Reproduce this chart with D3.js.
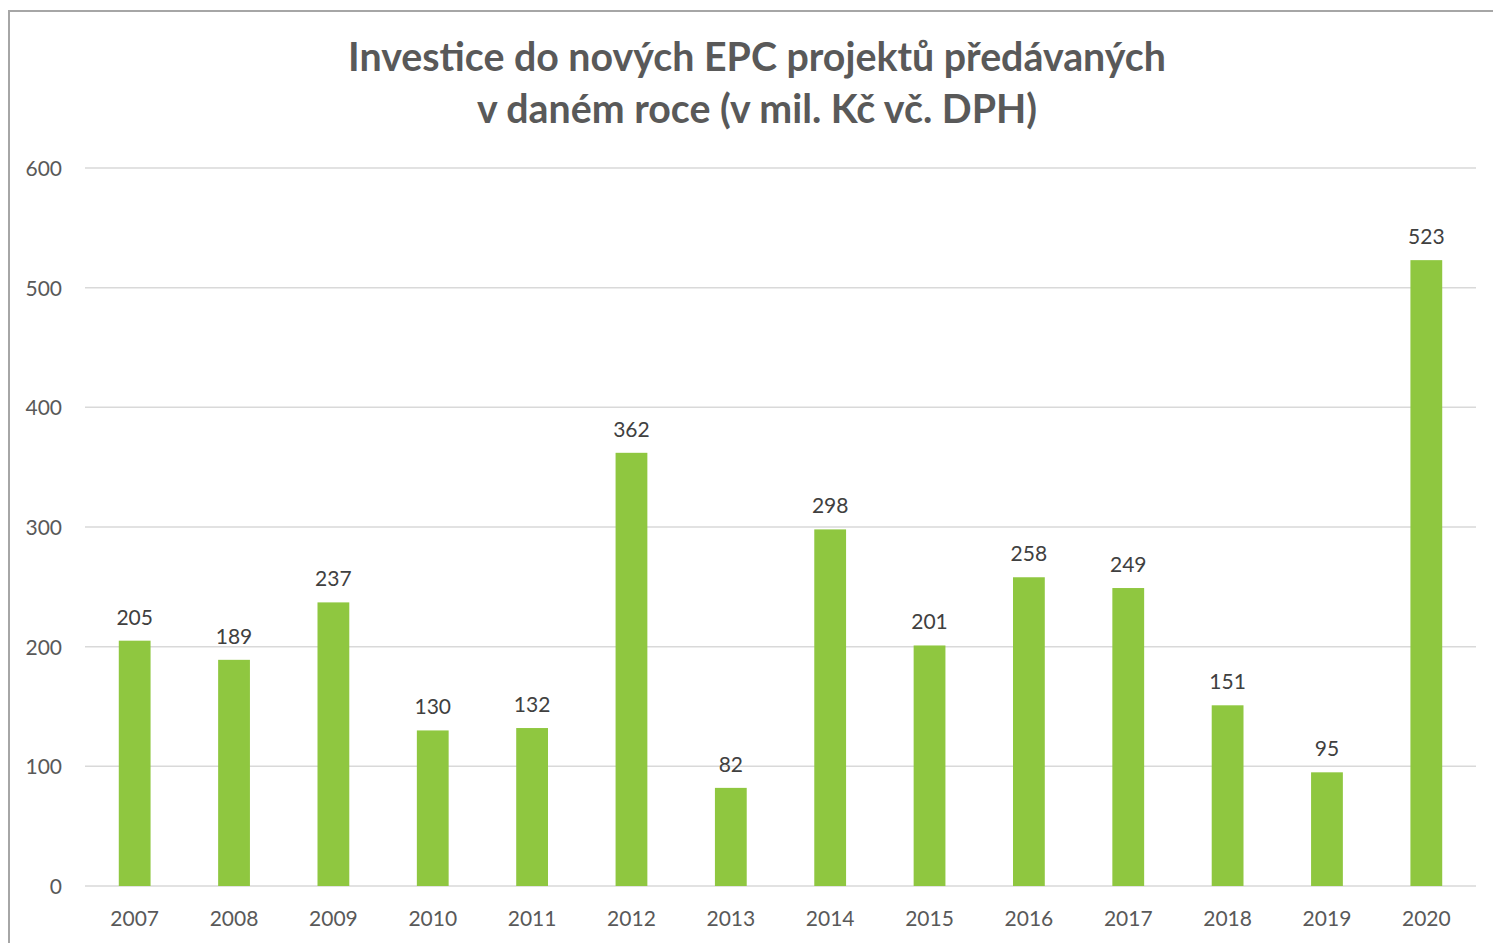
<!DOCTYPE html>
<html><head><meta charset="utf-8">
<script src="https://cdn.jsdelivr.net/npm/d3@7"></script>
<style>body{margin:0;background:#fff}svg{display:block}</style>
</head><body>
<svg id="c" width="1493" height="943"></svg>
<script>
const years = ["2007","2008","2009","2010","2011","2012","2013","2014","2015","2016","2017","2018","2019","2020"];
const values = [205,189,237,130,132,362,82,298,201,258,249,151,95,523];
const yTicks = [0,100,200,300,400,500,600];
const titleLines = ["Investice do nových EPC projektů předávaných","v daném roce (v mil. Kč vč. DPH)"];

const svg = d3.select("#c");
const font = "Lato, 'Open Sans', sans-serif";
const textColor = "#595959";

svg.append("rect").attr("x",9).attr("y",11).attr("width",1500).attr("height",950)
  .attr("fill","none").attr("stroke","#a6a6a6").attr("stroke-width",2);

const x = d3.scaleBand().domain(years).range([85,1476]).paddingInner(0.68).paddingOuter(0.34);
const y = d3.scaleLinear().domain([0,600]).range([886,168]);

// gridlines
svg.append("g").selectAll("line").data(yTicks).join("line")
  .attr("x1",85).attr("x2",1476).attr("y1",d=>y(d)).attr("y2",d=>y(d))
  .attr("stroke","#d9d9d9").attr("stroke-width",1.5);

// y axis labels
const yAxis = svg.append("g").attr("transform","translate(62,0)")
  .call(d3.axisLeft(y).tickValues(yTicks).tickSize(0).tickPadding(0));
yAxis.select(".domain").remove();
yAxis.selectAll("text").attr("font-family",font).attr("font-size",21).attr("fill",textColor).attr("dy","0.35em");

// bars
svg.append("g").selectAll("rect").data(values).join("rect")
  .attr("x",(d,i)=>x(years[i])).attr("width",x.bandwidth())
  .attr("y",d=>y(d)).attr("height",d=>y(0)-y(d)).attr("fill","#8fc740");

// x axis
const xAxis = svg.append("g").attr("transform","translate(0,886)")
  .call(d3.axisBottom(x).tickSize(0).tickPadding(0));
xAxis.select(".domain").remove();
xAxis.selectAll("text").attr("font-family",font).attr("font-size",21).attr("fill",textColor)
  .attr("dy",null).attr("y",40);

// data labels
svg.append("g").selectAll("text").data(values).join("text")
  .attr("x",(d,i)=>x(years[i])+x.bandwidth()/2).attr("y",d=>y(d)-16)
  .attr("text-anchor","middle").attr("font-family",font).attr("font-size",21).attr("fill","#404040")
  .text(d=>d);

// title
const t = svg.append("g");
titleLines.forEach((s,i)=>{
  t.append("text").attr("x",757).attr("y",71+i*52).attr("text-anchor","middle")
   .attr("font-family",font).attr("font-weight","bold").attr("font-size",36).attr("fill",textColor).text(s);
});
const first = t.select("text").node();
const w = first.getComputedTextLength();
const fs = 36*818/w;
t.selectAll("text").attr("font-size",fs);
</script>
</body></html>
